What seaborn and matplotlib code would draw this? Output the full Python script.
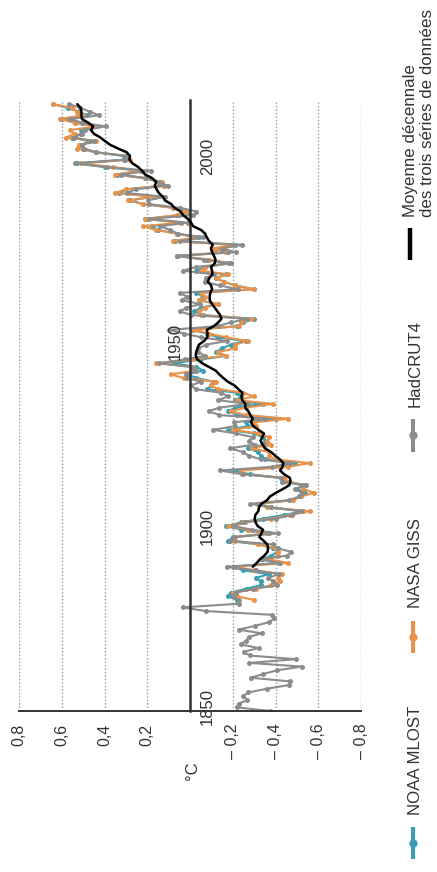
import numpy as np
import pandas as pd
import matplotlib
matplotlib.use("Agg")
import matplotlib.pyplot as plt
import seaborn as sns
from matplotlib.lines import Line2D

# ---------------- data (anomalies, °C, reference 1961-1990) ----------------
had_years = list(range(1850, 2015))
had_vals = [
    -0.373, -0.218, -0.228, -0.269, -0.248, -0.272, -0.358, -0.461, -0.467, -0.284,
    -0.343, -0.407, -0.524, -0.278, -0.494, -0.279, -0.251, -0.321, -0.238, -0.262,
    -0.276, -0.335, -0.227, -0.304, -0.368, -0.395, -0.384, -0.075, 0.035, -0.230,
    -0.227, -0.200, -0.213, -0.296, -0.409, -0.389, -0.367, -0.418, -0.307, -0.171,
    -0.416, -0.330, -0.455, -0.473, -0.410, -0.390, -0.186, -0.206, -0.412, -0.289,
    -0.203, -0.259, -0.402, -0.479, -0.520, -0.377, -0.283, -0.465, -0.511, -0.522,
    -0.490, -0.544, -0.437, -0.424, -0.244, -0.141, -0.383, -0.468, -0.333, -0.275,
    -0.247, -0.187, -0.302, -0.276, -0.294, -0.215, -0.108, -0.210, -0.206, -0.350,
    -0.137, -0.087, -0.137, -0.273, -0.131, -0.178, -0.147, -0.026, -0.006, -0.052,
    0.014, 0.020, -0.027, -0.004, 0.144, 0.025, -0.071, -0.038, -0.039, -0.074,
    -0.173, -0.052, 0.028, 0.097, -0.129, -0.190, -0.267, -0.007, 0.046, 0.017,
    -0.049, 0.038, 0.014, 0.048, -0.223, -0.140, -0.068, -0.074, -0.113, 0.032,
    -0.027, -0.186, -0.065, 0.062, -0.214, -0.149, -0.241, 0.047, -0.062, 0.057,
    0.092, 0.140, 0.011, 0.194, -0.014, -0.030, 0.045, 0.192, 0.198, 0.118,
    0.296, 0.254, 0.105, 0.148, 0.208, 0.325, 0.183, 0.390, 0.539, 0.306,
    0.294, 0.441, 0.496, 0.505, 0.447, 0.545, 0.506, 0.491, 0.395, 0.506,
    0.560, 0.425, 0.470, 0.514, 0.564,
]

giss_years = list(range(1880, 2015))
giss_vals = [
    -0.30, -0.22, -0.20, -0.31, -0.38, -0.42, -0.41, -0.43, -0.30, -0.21,
    -0.46, -0.37, -0.41, -0.41, -0.40, -0.32, -0.21, -0.21, -0.36, -0.27,
    -0.18, -0.25, -0.38, -0.47, -0.56, -0.36, -0.32, -0.48, -0.52, -0.58,
    -0.53, -0.54, -0.46, -0.44, -0.25, -0.24, -0.46, -0.56, -0.40, -0.37,
    -0.37, -0.29, -0.38, -0.36, -0.37, -0.32, -0.20, -0.31, -0.30, -0.46,
    -0.26, -0.19, -0.26, -0.39, -0.22, -0.30, -0.25, -0.13, -0.10, -0.12,
    0.03, 0.09, -0.03, -0.01, 0.16, -0.01, -0.17, -0.13, -0.21, -0.21,
    -0.27, -0.17, -0.09, -0.02, -0.23, -0.24, -0.29, -0.05, -0.04, -0.07,
    -0.13, -0.04, -0.07, -0.05, -0.30, -0.21, -0.16, -0.12, -0.18, -0.05,
    -0.07, -0.18, -0.09, 0.06, -0.17, -0.11, -0.20, 0.08, -0.03, 0.06,
    0.16, 0.22, 0.04, 0.21, 0.06, 0.02, 0.08, 0.22, 0.29, 0.17,
    0.35, 0.30, 0.12, 0.13, 0.21, 0.35, 0.23, 0.36, 0.51, 0.28,
    0.29, 0.44, 0.53, 0.52, 0.44, 0.58, 0.54, 0.56, 0.44, 0.54,
    0.61, 0.50, 0.53, 0.55, 0.64,
]

noaa_years = list(range(1880, 2015))
noaa_vals = [
    -0.22, -0.18, -0.19, -0.26, -0.33, -0.33, -0.31, -0.37, -0.25, -0.20,
    -0.42, -0.34, -0.38, -0.41, -0.39, -0.32, -0.18, -0.20, -0.37, -0.24,
    -0.17, -0.24, -0.34, -0.44, -0.53, -0.38, -0.32, -0.48, -0.52, -0.54,
    -0.50, -0.53, -0.43, -0.43, -0.28, -0.20, -0.42, -0.49, -0.35, -0.33,
    -0.32, -0.27, -0.35, -0.35, -0.34, -0.30, -0.18, -0.27, -0.26, -0.40,
    -0.22, -0.18, -0.21, -0.34, -0.21, -0.24, -0.22, -0.08, -0.10, -0.11,
    -0.03, 0.01, -0.06, -0.03, 0.08, -0.05, -0.17, -0.12, -0.15, -0.19,
    -0.26, -0.13, -0.08, -0.01, -0.22, -0.25, -0.30, -0.06, -0.02, -0.05,
    -0.13, -0.04, -0.06, -0.03, -0.30, -0.21, -0.16, -0.12, -0.17, -0.03,
    -0.07, -0.19, -0.08, 0.06, -0.18, -0.12, -0.21, 0.07, -0.04, 0.06,
    0.15, 0.18, 0.04, 0.21, 0.05, 0.01, 0.08, 0.22, 0.28, 0.17,
    0.33, 0.30, 0.12, 0.14, 0.21, 0.34, 0.23, 0.40, 0.53, 0.31,
    0.31, 0.44, 0.50, 0.51, 0.47, 0.55, 0.51, 0.51, 0.44, 0.54,
    0.60, 0.48, 0.52, 0.57, 0.64,
]

temp_ticks = [0.8, 0.6, 0.4, 0.2, 0.0, -0.2, -0.4, -0.6, -0.8]
temp_tick_labels = ["0,8", "0,6", "0,4", "0,2", "", "\u2013 0,2", "\u2013 0,4", "\u2013 0,6", "\u2013 0,8"]
year_ticks = list(range(1850, 2011, 10))
year_labels = [1850, 1900, 1950, 2000]

legend_labels = ["NOAA MLOST", "NASA GISS", "HadCRUT4",
                 "Moyenne décennale\ndes trois séries de données"]

# ---------------- frames ----------------
had = pd.DataFrame({"year": had_years, "temp": had_vals})
giss = pd.DataFrame({"year": giss_years, "temp": giss_vals})
noaa = pd.DataFrame({"year": noaa_years, "temp": noaa_vals})

# decadal (trailing 10-year) mean of the three series
both = pd.DataFrame({"year": giss_years, "giss": giss_vals, "noaa": noaa_vals})
both = both.merge(had.rename(columns={"temp": "had"}), on="year")
both["mean3"] = both[["had", "giss", "noaa"]].mean(axis=1)
both["dec"] = both["mean3"].rolling(10).mean()
dec = both.dropna(subset=["dec"])[["year", "dec"]]

# ---------------- style ----------------
sns.set_style("white")
plt.rcParams["font.family"] = ["Liberation Sans", "DejaVu Sans"]
TXT = "#333333"
GRAY = "#8c8c8c"
ORANGE = "#e8924a"
TEAL = "#3a9fb3"

W, H = 437, 872
fig = plt.figure(figsize=(W / 100, H / 100), dpi=100)
ax = fig.add_axes([19 / W, 1 - 711 / H, (361 - 19) / W, (711 - 100) / H])

for df, col in [(noaa, TEAL), (giss, ORANGE), (had, GRAY)]:
    sns.lineplot(data=df, x="temp", y="year", orient="y", ax=ax, color=col,
                 lw=1.5, marker="o", markersize=3.6, markeredgewidth=0,
                 estimator=None, zorder=2)
sns.lineplot(data=dec, x="dec", y="year", orient="y", ax=ax, color="black",
             lw=1.8, estimator=None, zorder=3)

ax.set_xlim(0.8, -0.8)
ax.set_ylim(1850, 1850 + 611 / 3.7)
ax.set_xlabel("")
ax.set_ylabel("")

ax.spines["top"].set_visible(False)
ax.spines["right"].set_visible(False)
ax.spines["left"].set_position(("data", 0))
ax.spines["left"].set_color(TXT)
ax.spines["left"].set_linewidth(1.8)
ax.spines["bottom"].set_color(TXT)
ax.spines["bottom"].set_linewidth(1.4)

ax.set_xticks(temp_ticks)
ax.set_xticklabels(temp_tick_labels)
ax.tick_params(axis="x", direction="out", length=3, width=1.2, colors=TXT,
               labelsize=11.5, pad=6, labelrotation=90)
ax.set_yticks(year_ticks)
ax.tick_params(axis="y", direction="in", length=3, width=1, colors=TXT,
               labelleft=False)

ax.grid(axis="x", color="#9a9a9a", linestyle=(0, (1, 1.5)), lw=1)
ax.grid(axis="y", visible=False)
ax.set_axisbelow(True)

# year labels (1950 sits on the other side of the axis)
for yr in year_labels:
    left_side = (yr == 1950)
    ypos = yr + 1.3 if yr == 1850 else yr
    ax.text(0.036 if left_side else -0.047, ypos, str(yr), rotation=90,
            ha="right" if left_side else "left", va="center",
            fontsize=12, color=TXT, zorder=5)

fig.text(192 / W, 1 - 771 / H, "°C", rotation=90, ha="center", va="center",
         fontsize=12, color=TXT)

# ---------------- legend (rotated) ----------------
def handle(xc, y0, y1, color, dot=True, lw=2.9):
    fig.add_artist(Line2D([xc / W, xc / W], [1 - y0 / H, 1 - y1 / H],
                          transform=fig.transFigure, color=color, lw=lw,
                          solid_capstyle="butt"))
    if dot:
        fig.add_artist(Line2D([xc / W], [1 - (y0 + y1) / 2 / H],
                              transform=fig.transFigure, color=color,
                              marker="o", markersize=6, markeredgewidth=0,
                              linestyle="none"))

handle(413, 827, 859, TEAL)
handle(413, 621, 653, ORANGE)
handle(413, 419, 452, GRAY)
handle(410, 228, 260, "black", dot=False, lw=3.2)

for (xc, ystart), lab in zip([(415, 815), (415, 608), (415, 407), (419, 217)],
                             legend_labels):
    fig.text(xc / W, 1 - ystart / H, lab, rotation=90, ha="center", va="bottom",
             fontsize=12.2, color=TXT, linespacing=1.15, multialignment="left")

fig.savefig("out.png", dpi=100)
